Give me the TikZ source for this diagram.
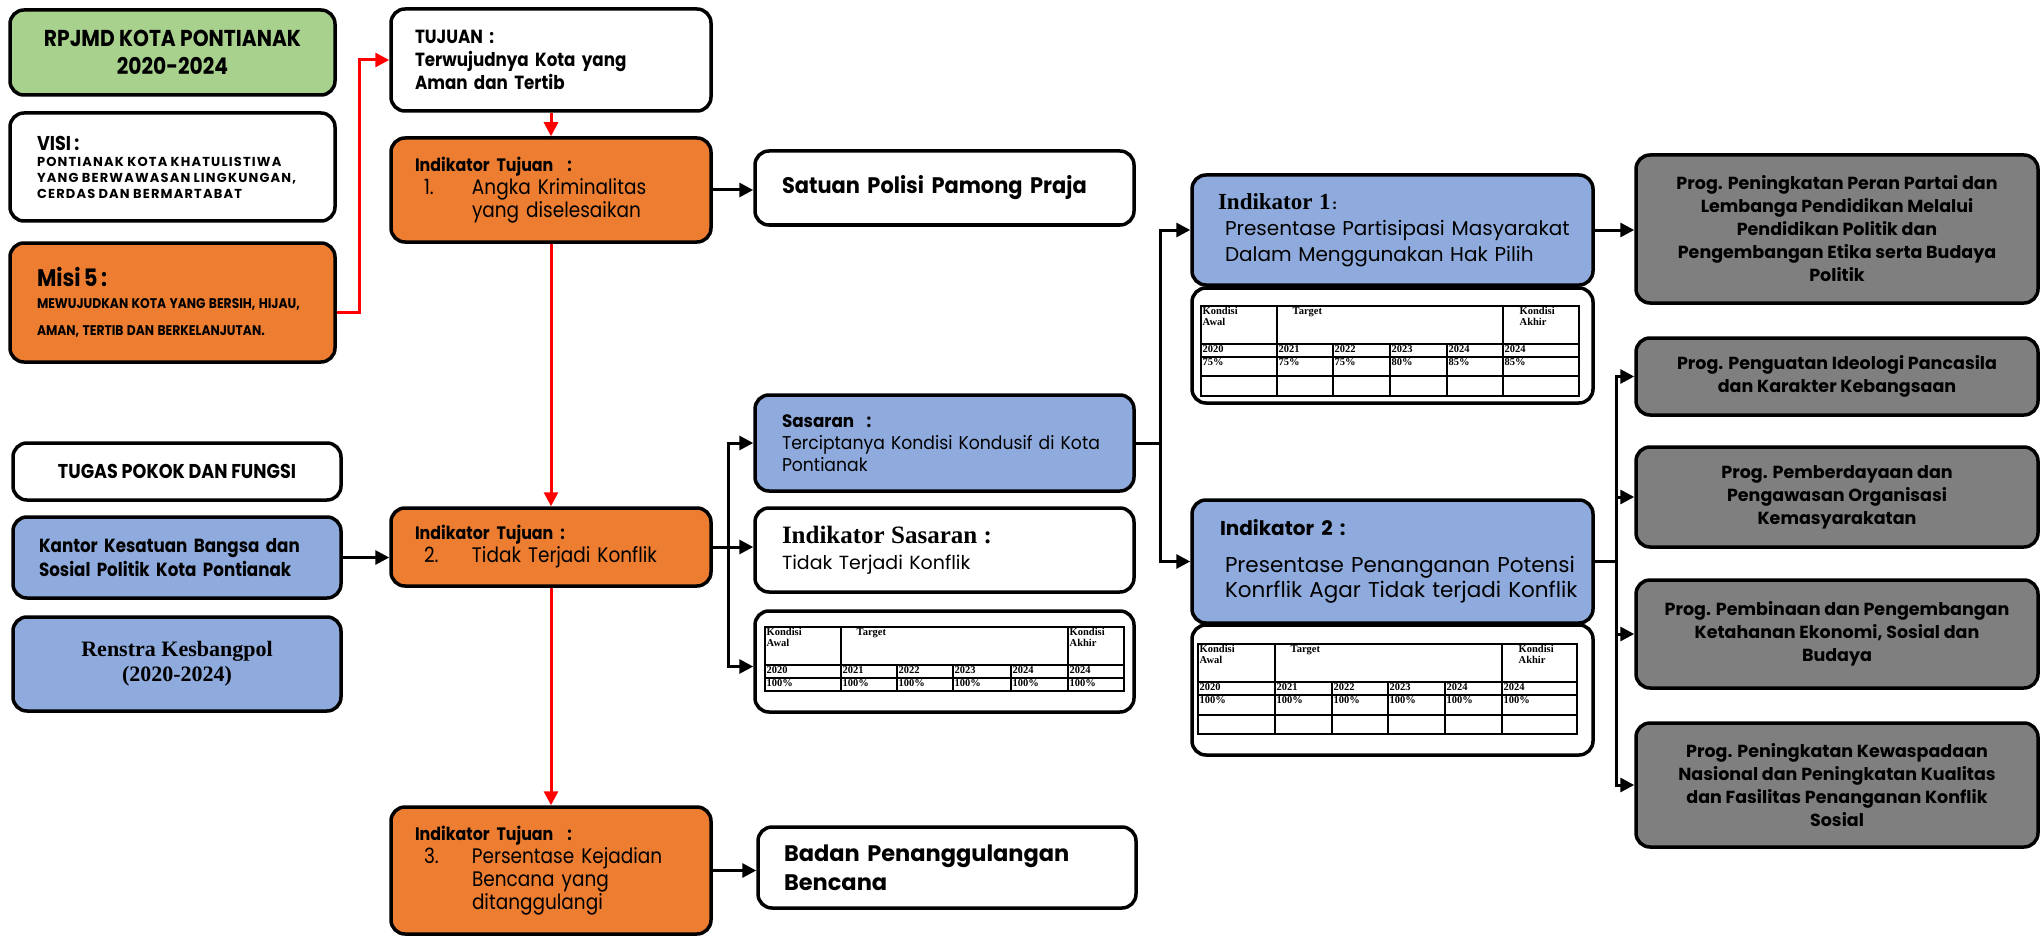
\documentclass[tikz,border=0pt]{standalone}
\usepackage{fontspec}
\setmainfont{Poppins}
\newfontfamily\narrow[FakeStretch=0.88]{Poppins}
\newfontfamily\semi[FakeStretch=0.93]{Poppins}
\newfontfamily\wide[LetterSpace=9]{Poppins}
\newfontfamily\georgia{Liberation Serif}
\usetikzlibrary{arrows.meta}
\definecolor{hijau}{RGB}{169,209,142}
\definecolor{oranye}{RGB}{237,125,49}
\definecolor{biru}{RGB}{143,170,220}
\definecolor{abu}{RGB}{127,127,127}
\definecolor{merah}{RGB}{255,0,0}
\newcommand{\fs}[2]{\fontsize{#1}{#2}\selectfont}
\setlength{\parindent}{0pt}

\begin{document}
\begin{tikzpicture}[x=1pt, y=-1pt, >={Triangle[length=14pt,width=14pt]},
  box/.style={draw, line width=3.5pt, rounded corners=14pt, inner sep=0pt},
  conn/.style={->, line width=3pt},
  redconn/.style={->, line width=3pt, merah},
  tabline/.style={line width=2pt},
  tabtext/.style={anchor=north west, inner sep=1.5pt, align=left,
    font=\georgia\bfseries\fs{10.5}{11}}]

        \useasboundingbox (0,0) rectangle (2042,936);

        % kolom kiri
        \node [box, fill=hijau, minimum width=325pt, minimum height=85pt, align=center,
          font=\narrow\bfseries\fs{23}{28}] (rpjmd) at (172.5,52.5) {RPJMD KOTA PONTIANAK\\2020-2024};
        \node [box, fill=white, minimum width=325pt, minimum height=108pt, inner xsep=27pt,
          text width=271pt, align=left] (visi) at (172.5,167)
          {{\narrow\bfseries\fs{20}{24}VISI :\par}
           {\wide\bfseries\fs{13}{16}PONTIANAK KOTA KHATULISTIWA\\YANG BERWAWASAN LINGKUNGAN,\\CERDAS DAN BERMARTABAT\par}};
        \node [box, fill=oranye, minimum width=325pt, minimum height=119pt, inner xsep=27pt,
          text width=271pt, align=left] (misi) at (172.5,302.5)
          {{\narrow\bfseries\fs{24}{28}Misi 5 :\par}
           {\narrow\bfseries\fs{14}{22}\mbox{MEWUJUDKAN KOTA YANG BERSIH, HIJAU,}\\[5pt]\mbox{AMAN, TERTIB DAN BERKELANJUTAN.}\par}};

        \node [box, fill=white, minimum width=328pt, minimum height=57pt, align=center,
          font=\narrow\bfseries\fs{20}{22}] (tupoksi) at (177,471.5) {TUGAS POKOK DAN FUNGSI};
        \node [box, fill=biru, minimum width=328pt, minimum height=81pt, inner xsep=26pt,
          text width=276pt, align=left, font=\narrow\bfseries\fs{19}{24}] (kantor) at (177,557.5)
          {Kantor Kesatuan Bangsa dan\\Sosial Politik Kota Pontianak};
        \node [box, fill=biru, minimum width=328pt, minimum height=94pt, align=center,
          font=\georgia\bfseries\fs{22}{25}] (renstra) at (177,664) {Renstra Kesbangpol\\(2020-2024)};

        % tujuan dan indikator tujuan
        \node [box, fill=white, minimum width=320pt, minimum height=102pt, inner xsep=24pt,
          text width=272pt, align=left, font=\narrow\bfseries\fs{19}{23}] (tujuan) at (551,60)
          {TUJUAN :\\Terwujudnya Kota yang\\Aman dan Tertib};
        \node [box, fill=oranye, minimum width=320pt, minimum height=104pt, inner xsep=24pt,
          text width=272pt, align=left, font=\narrow\fs{21}{23}] (indt-1) at (551,190)
          {{\bfseries\fs{18}{23}Indikator Tujuan \ :}\\
           \hspace*{9pt}\makebox[48pt][l]{1.}Angka Kriminalitas\\
           \hspace*{57pt}yang diselesaikan};
        \node [box, fill=oranye, minimum width=320pt, minimum height=78pt, inner xsep=24pt,
          text width=272pt, align=left, font=\narrow\fs{21}{23}] (indt-2) at (551,547)
          {{\bfseries\fs{18}{23}Indikator Tujuan :}\\
           \hspace*{9pt}\makebox[48pt][l]{2.}Tidak Terjadi Konflik};
        \node [box, fill=oranye, minimum width=320pt, minimum height=127pt, inner xsep=24pt,
          text width=272pt, align=left, font=\narrow\fs{21}{23}] (indt-3) at (551,870.5)
          {{\bfseries\fs{18}{23}Indikator Tujuan \ :}\\
           \hspace*{9pt}\makebox[48pt][l]{3.}Persentase Kejadian\\
           \hspace*{57pt}Bencana yang\\
           \hspace*{57pt}ditanggulangi};

        % perangkat daerah dan sasaran
        \node [box, fill=white, minimum width=379pt, minimum height=74pt, inner xsep=27pt,
          text width=325pt, align=left, font=\semi\bfseries\fs{22.5}{28}] (satpol) at (944.5,188)
          {Satuan Polisi Pamong Praja};
        \node [box, fill=biru, minimum width=379pt, minimum height=96pt, inner xsep=27pt,
          text width=325pt, align=left, font=\semi\fs{18.5}{22}] (sasaran) at (944.5,443)
          {{\bfseries\fs{18}{22}Sasaran \ :}\\Terciptanya Kondisi Kondusif di Kota\\Pontianak};
        \node [box, fill=white, minimum width=379pt, minimum height=84pt, inner xsep=27pt,
          text width=325pt, align=left, font=\fs{19}{26}] (indsas) at (944.5,550)
          {{\georgia\bfseries\fs{25}{26}Indikator Sasaran :}\\Tidak Terjadi Konflik};
        \node [box, fill=white, minimum width=379pt, minimum height=101pt] (tab-sas) at (944.5,661.5) {};
        \node [box, fill=white, minimum width=378pt, minimum height=81pt, inner xsep=26pt,
          text width=326pt, align=left, font=\bfseries\fs{22.5}{29}] (badan) at (947,867.5)
          {Badan Penanggulangan\\Bencana};

        % indikator sasaran
        \node [box, fill=biru, minimum width=401pt, minimum height=110pt, inner xsep=8pt,
          text width=385pt, align=left, font=\fs{20}{26}] (ind-1) at (1392.5,230)
          {\hspace*{18pt}{\georgia\bfseries\fs{23}{29}Indikator 1}{\bfseries\fs{13}{29}\,:}\\
           \hspace*{25pt}Presentase Partisipasi Masyarakat\\
           \hspace*{25pt}Dalam Menggunakan Hak Pilih};
        \node [box, fill=white, minimum width=401pt, minimum height=115pt] (tab-1) at (1392.5,345.5) {};
        \node [box, fill=biru, minimum width=401pt, minimum height=123pt, inner xsep=8pt,
          text width=385pt, align=left, font=\fs{21.5}{25}] (ind-2) at (1392.5,561.5)
          {\hspace*{20pt}{\bfseries\fs{20}{25}Indikator 2 :}\\[12pt]
           \hspace*{25pt}Presentase Penanganan Potensi\\
           \hspace*{25pt}Konrflik Agar Tidak terjadi Konflik};
        \node [box, fill=white, minimum width=401pt, minimum height=130pt] (tab-2) at (1392.5,690) {};

        % program
        \foreach \m/\y/\h/\t in {
            1/229/148/{Prog. Peningkatan Peran Partai dan\\Lembanga Pendidikan Melalui\\Pendidikan Politik dan\\Pengembangan Etika serta Budaya\\Politik},
            2/376.5/77/{Prog. Penguatan Ideologi Pancasila\\dan Karakter Kebangsaan},
            3/497/100/{Prog. Pemberdayaan dan\\Pengawasan Organisasi\\Kemasyarakatan},
            4/634/108/{Prog. Pembinaan dan Pengembangan\\Ketahanan Ekonomi, Sosial dan\\Budaya},
            5/785/124/{Prog. Peningkatan Kewaspadaan\\Nasional dan Peningkatan Kualitas\\dan Fasilitas Penanganan Konflik\\Sosial}}
          \node [box, fill=abu, minimum width=402pt, minimum height=\h pt, align=center,
            font=\bfseries\fs{17.5}{23}] (prog-\m) at (1837,\y) {\t};

        % tabel sasaran
        \begin{scope}[shift={(765,627)}]
          \draw [tabline] (0,0) rectangle (359,64);
          \foreach \y in {38,51} \draw [tabline] (0,\y) -- (359,\y);
          \foreach \x in {76,303} \draw [tabline] (\x,0) -- (\x,64);
          \foreach \x in {132,188,246} \draw [tabline] (\x,38) -- (\x,64);
          \node [tabtext] (sas-awal) at (0,0) {Kondisi\\Awal};
          \node [tabtext] (sas-target) at (90,0) {Target};
          \node [tabtext] (sas-akhir) at (303,0) {Kondisi\\Akhir};
          \foreach \x/\th [count=\i] in {0/2020,76/2021,132/2022,188/2023,246/2024,303/2024}
            \node [tabtext] (sas-th-\i) at (\x,38) {\th};
          \foreach \x [count=\i] in {0,76,132,188,246,303}
            \node [tabtext] (sas-nilai-\i) at (\x,51) {100\%};
        \end{scope}

        % tabel indikator 1
        \begin{scope}[shift={(1201,306)}]
          \draw [tabline] (0,0) rectangle (378,90);
          \foreach \y in {38,51,70} \draw [tabline] (0,\y) -- (378,\y);
          \foreach \x in {76,302} \draw [tabline] (\x,0) -- (\x,90);
          \foreach \x in {132,189,246} \draw [tabline] (\x,38) -- (\x,90);
          \node [tabtext] (t1-awal) at (0,0) {Kondisi\\Awal};
          \node [tabtext] (t1-target) at (90,0) {Target};
          \node [tabtext] (t1-akhir) at (317,0) {Kondisi\\Akhir};
          \foreach \x/\th/\v [count=\i] in {0/2020/75,76/2021/75,132/2022/75,189/2023/80,246/2024/85,302/2024/85} {
            \node [tabtext] (t1-th-\i) at (\x,38) {\th};
            \node [tabtext] (t1-nilai-\i) at (\x,51) {\v\%};
          }
        \end{scope}

        % tabel indikator 2
        \begin{scope}[shift={(1198,644)}]
          \draw [tabline] (0,0) rectangle (379,90);
          \foreach \y in {38,51,71} \draw [tabline] (0,\y) -- (379,\y);
          \foreach \x in {77,304} \draw [tabline] (\x,0) -- (\x,90);
          \foreach \x in {134,190,247} \draw [tabline] (\x,38) -- (\x,90);
          \node [tabtext] (t2-awal) at (0,0) {Kondisi\\Awal};
          \node [tabtext] (t2-target) at (91,0) {Target};
          \node [tabtext] (t2-akhir) at (319,0) {Kondisi\\Akhir};
          \foreach \x/\th [count=\i] in {0/2020,77/2021,134/2022,190/2023,247/2024,304/2024} {
            \node [tabtext] (t2-th-\i) at (\x,38) {\th};
            \node [tabtext] (t2-nilai-\i) at (\x,51) {100\%};
          }
        \end{scope}

        % panah merah
        \draw [redconn] ([yshift=-10pt]misi.east) -- ++(23,0) |- (tujuan.west);
        \draw [redconn] (tujuan) -- (indt-1);
        \draw [redconn] (indt-1) -- (indt-2);
        \draw [redconn] (indt-2) -- (indt-3);

        % panah hitam
        \draw [conn] (indt-1.east) -- (indt-1.east -| satpol.west);
        \draw [conn] (kantor.east) -- (kantor.east -| indt-2.west);
        \draw [conn] (indt-3.east) -- (indt-3.east -| badan.west);

        \draw [line width=3pt] (indt-2.east) -- ++(16,0) coordinate (bus-a);
        \draw [conn] (bus-a) |- (sasaran.west);
        \draw [conn] (bus-a) -- (bus-a -| indsas.west);
        \draw [conn] (bus-a) |- ([yshift=-5pt]tab-sas.west);

        \draw [line width=3pt] (sasaran.east) -- ++(25,0) coordinate (bus-b);
        \draw [conn] (bus-b) |- (ind-1.west);
        \draw [conn] (bus-b) |- (ind-2.west);

        \draw [conn] (ind-1.east) -- (ind-1.east -| prog-1.west);
        \draw [line width=3pt] (ind-2.east) -- ++(22,0) coordinate (bus-c);
        \foreach \m in {2,...,5}
          \draw [conn] (bus-c) |- (prog-\m.west);

\end{tikzpicture}
\end{document}
